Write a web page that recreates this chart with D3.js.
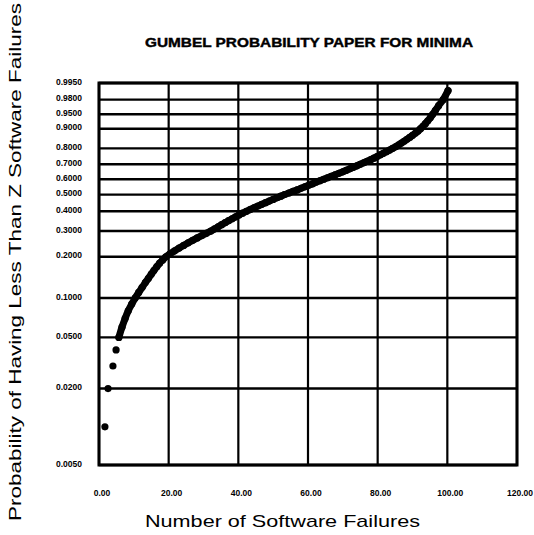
<!DOCTYPE html>
<html>
<head>
<meta charset="utf-8">
<script src="https://cdn.jsdelivr.net/npm/d3@7"></script>
<style>
    body { margin: 0; background: #fff; }
    svg { display: block; }
    .tick-label { font-family: "Liberation Sans Narrow", "Arial Narrow", "Liberation Sans", Arial, sans-serif; font-weight: bold; font-size: 8.5px; fill: #000; }
    .axis-title { font-family: "Liberation Sans", Arial, sans-serif; font-size: 17px; fill: #000; }
    .chart-title { font-family: "Liberation Sans Narrow", "Arial Narrow", "Liberation Sans", Arial, sans-serif; font-weight: bold; font-size: 12.5px; fill: #000; stroke: #000; stroke-width: 0.4px; }
</style>
</head>
<body>
<svg id="chart" width="534" height="535"></svg>
<script>
    // probability levels printed on the Gumbel (minima) paper
    var probTicks = [0.005, 0.02, 0.05, 0.1, 0.2, 0.3, 0.4, 0.5, 0.6, 0.7, 0.8, 0.9, 0.95, 0.98, 0.995];
    var probLabels = ['0.0050', '0.0200', '0.0500', '0.1000', '0.2000', '0.3000', '0.4000', '0.5000',
        '0.6000', '0.7000', '0.8000', '0.9000', '0.9500', '0.9800', '0.9950'];
    var failureTicks = [0, 20, 40, 60, 80, 100, 120];
    var failureLabels = ['0.00', '20.00', '40.00', '60.00', '80.00', '100.00', '120.00'];

    // sorted number of software failures (rank i -> plotting position i/100)
    var failures = [
        1.7, 2.6, 4.0, 4.9, 5.7, 6.6, 7.5, 8.4, 9.4, 10.4,
        11.4, 12.4, 13.3, 14.2, 15.0, 15.8, 16.6, 17.4, 18.3, 19.2,
        20.4, 21.7, 23.0, 24.3, 25.6, 26.9, 28.2, 29.5, 30.8, 32.1,
        33.2, 34.2, 35.2, 36.2, 37.2, 38.2, 39.2, 40.2, 41.2, 42.3,
        43.4, 44.5, 45.6, 46.7, 47.8, 48.9, 50.0, 51.1, 52.2, 53.3,
        54.5, 55.7, 56.9, 58.0, 59.1, 60.2, 61.3, 62.3, 63.4, 64.5,
        65.6, 66.7, 67.8, 68.9, 70.0, 71.0, 72.0, 73.0, 74.0, 75.0,
        76.0, 77.0, 78.0, 78.9, 79.8, 80.7, 81.6, 82.5, 83.4, 84.3,
        85.2, 86.0, 86.8, 87.6, 88.4, 89.2, 90.0, 90.8, 91.6, 92.3,
        93.0, 93.7, 94.4, 95.1, 95.8, 96.6, 97.5, 98.8, 100.2
    ];

    var margin = {left: 99, right: 17, top: 83, bottom: 70};
    var width = 534 - margin.left - margin.right;
    var height = 535 - margin.top - margin.bottom;

    // reduced variate for smallest extreme value: ln(-ln(1-p))
    var gumbelMin = function(p) { return Math.log(-Math.log(1 - p)); };

    var x = d3.scaleLinear().domain([0, 120]).range([0, width]);
    var yv = d3.scaleLinear()
        .domain([gumbelMin(0.005), gumbelMin(0.995)])
        .range([height, 0]);
    var y = function(p) { return yv(gumbelMin(p)); };
    var rankProb = function(i) { return (i + 1) / (failures.length + 1); };

    var svg = d3.select("#chart");
    var g = svg.append("g").attr("transform", "translate(" + margin.left + "," + margin.top + ")");

    // grid
    g.selectAll("line.h-grid")
        .data(probTicks)
        .enter().append("line")
        .attr("class", "h-grid")
        .attr("x1", 0).attr("x2", width)
        .attr("y1", function(d) { return y(d); })
        .attr("y2", function(d) { return y(d); })
        .attr("stroke", "#000")
        .attr("stroke-width", 2.4);

    g.selectAll("line.v-grid")
        .data(failureTicks)
        .enter().append("line")
        .attr("class", "v-grid")
        .attr("x1", function(d) { return x(d); })
        .attr("x2", function(d) { return x(d); })
        .attr("y1", 0).attr("y2", height)
        .attr("stroke", "#000")
        .attr("stroke-width", 2.2);

    g.append("rect")
        .attr("width", width).attr("height", height)
        .attr("fill", "none")
        .attr("stroke", "#000")
        .attr("stroke-width", 3);

    // tick labels
    g.selectAll("text.y-label")
        .data(probTicks)
        .enter().append("text")
        .attr("class", "tick-label y-label")
        .attr("x", -17)
        .attr("y", function(d) { return y(d); })
        .attr("dy", "0.2em")
        .style("text-anchor", "end")
        .text(function(d, i) { return probLabels[i]; });

    g.selectAll("text.x-label")
        .data(failureTicks)
        .enter().append("text")
        .attr("class", "tick-label x-label")
        .attr("x", function(d) { return x(d) + 3; })
        .attr("y", height + 31)
        .style("text-anchor", "middle")
        .text(function(d, i) { return failureLabels[i]; });

    // the dense part of the sample prints as one thick band
    var band = d3.line()
        .curve(d3.curveMonotoneX)
        .x(function(d) { return x(d); })
        .y(function(d, i) { return y(rankProb(i + 4)); });

    g.append("path")
        .datum(failures.slice(4))
        .attr("d", band)
        .attr("fill", "none")
        .attr("stroke", "#000")
        .attr("stroke-width", 7)
        .attr("stroke-linecap", "round")
        .attr("stroke-linejoin", "round");

    g.selectAll("circle.pt")
        .data(failures)
        .enter().append("circle")
        .attr("class", "pt")
        .attr("cx", function(d) { return x(d); })
        .attr("cy", function(d, i) { return y(rankProb(i)); })
        .attr("r", 3.6)
        .attr("fill", "#000");

    // titles
    svg.append("text")
        .attr("class", "chart-title")
        .attr("x", 145).attr("y", 47)
        .attr("textLength", 328)
        .attr("lengthAdjust", "spacingAndGlyphs")
        .text("GUMBEL PROBABILITY PAPER FOR MINIMA");

    svg.append("text")
        .attr("class", "axis-title")
        .attr("x", 145).attr("y", 527)
        .attr("textLength", 275)
        .attr("lengthAdjust", "spacingAndGlyphs")
        .text("Number of Software Failures");

    svg.append("text")
        .attr("class", "axis-title")
        .attr("transform", "translate(21,521) rotate(-90)")
        .attr("textLength", 518)
        .attr("lengthAdjust", "spacingAndGlyphs")
        .text("Probability of Having Less Than Z Software Failures");
</script>
</body>
</html>
